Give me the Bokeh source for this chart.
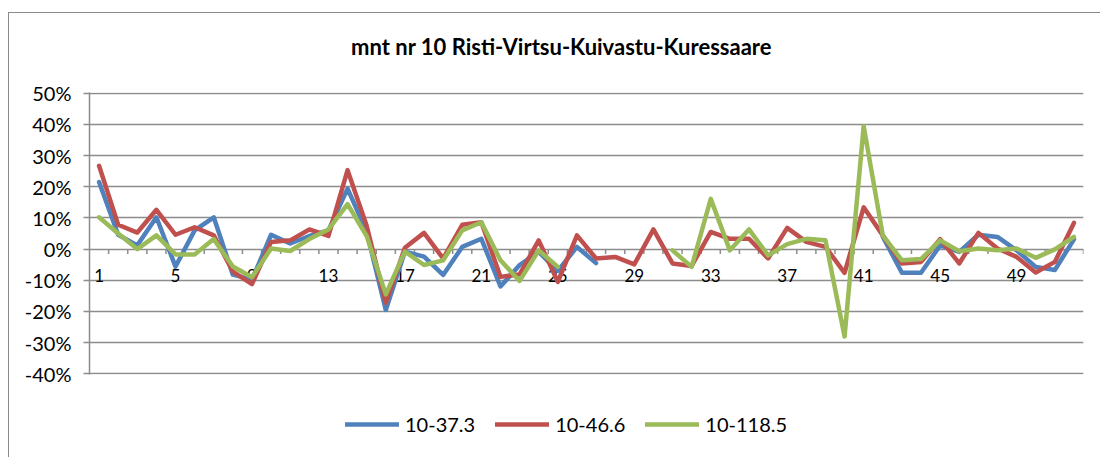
from bokeh.plotting import figure
from bokeh.layouts import column
from bokeh.models import Range1d, Legend, LegendItem, PrintfTickFormatter, FixedTicker, ColumnDataSource
from bokeh.embed import file_html
from bokeh.resources import INLINE
from bokeh.core.properties import value

nan = float("nan")

title_text = "mnt nr 10 Risti-Virtsu-Kuivastu-Kuressaare"
categories = list(range(1, 53))
x_tick_labels = ["1", "5", "9", "13", "17", "21", "25", "29", "33", "37", "41", "45", "49"]
y_ticks = [-40, -30, -20, -10, 0, 10, 20, 30, 40, 50]

s1_name = "10-37.3"
s1 = [21.5, 4.6, 1.2, 10.2, -5.6, 6.0, 10.2, -8.2, -9.8, 4.6,
      1.8, 4.2, 6.0, 19.4, 5.5, -19.5, -0.8, -2.4, -8.3, 0.7,
      3.3, -12.0, -5.1, -0.9, -7.0, 0.7, -4.5, nan, nan, nan,
      nan, nan, nan, nan, nan, nan, nan, nan, nan, nan,
      nan, 4.0, -7.6, -7.6, 1.2, -0.9, 4.6, 3.9, -0.4, -5.7,
      -6.7, 3.1]

s2_name = "10-46.6"
s2 = [26.7, 7.8, 5.3, 12.6, 4.6, 7.0, 4.4, -7.2, -11.2, 2.3,
      2.8, 6.3, 4.2, 25.3, 7.5, -17.2, 0.4, 5.2, -3.0, 7.8,
      8.6, -8.9, -8.1, 2.8, -10.5, 4.4, -3.0, -2.5, -4.9, 6.3,
      -4.6, -5.4, 5.5, 3.3, 3.3, -3.0, 6.8, 2.3, 0.7, -7.6,
      13.4, 4.4, -4.6, -4.1, 3.2, -4.6, 5.2, 0.2, -2.5, -7.5,
      -4.1, 8.4]

s3_name = "10-118.5"
s3 = [10.2, 5.0, 0.0, 4.4, -1.7, -1.7, 3.2, -5.6, -9.0, 0.2,
      -0.6, 3.2, 6.3, 14.4, 4.2, -14.5, -0.8, -5.1, -3.6, 6.0,
      8.6, -3.6, -10.2, -0.4, -5.7, nan, nan, nan, nan, nan,
      -0.4, -5.7, 16.1, -0.4, 6.3, -2.0, 1.6, 3.3, 2.8, -28.0,
      39.4, 4.4, -3.6, -3.2, 2.8, -0.7, 0.2, -0.4, 0.2, -2.8,
      -0.1, 3.9]

series_names = [s1_name, s2_name, s3_name]
series_values = [s1, s2, s3]
colors = ["#4F81BD", "#C0504D", "#9BBB59"]
FONT = "Lato"
GRID = "#8c8c8c"
W = 1091
BL, BR = 80, 17          # plot-frame borders (all strips share the frame)
LINE_W = 4.5


def bare(fig):
    fig.outline_line_color = None
    fig.background_fill_color = "white"
    fig.border_fill_color = "white"
    fig.xgrid.grid_line_color = None
    fig.ygrid.grid_line_color = None


# ---------- title strip ----------
TH = 59
pt = figure(width=W, height=TH, output_backend="svg", toolbar_location=None,
            x_range=Range1d(BL, W - BR), y_range=Range1d(0, TH),
            x_axis_location=None, y_axis_location=None,
            min_border_left=BL, min_border_right=BR, min_border_top=0, min_border_bottom=0)
bare(pt)
pt.text(x=[552], y=[TH - 33], text=[title_text], text_font=value(FONT),
        text_font_size="22px", text_font_style="bold", text_align="center",
        text_baseline="middle", text_color="#000000")

# ---------- main chart ----------
p = figure(width=W, height=316, output_backend="svg", toolbar_location=None,
           x_range=Range1d(0.5, len(categories) + 0.5),
           y_range=Range1d(y_ticks[0] - 0.2, y_ticks[-1] + 0.2),
           x_axis_location=None, min_border_left=BL, min_border_right=BR,
           min_border_top=20, min_border_bottom=14)
bare(p)

p.yaxis.ticker = FixedTicker(ticks=y_ticks)
p.yaxis.formatter = PrintfTickFormatter(format="%d%%")
p.yaxis.axis_line_color = GRID
p.yaxis.axis_line_width = 1.5
p.yaxis.major_tick_line_color = GRID
p.yaxis.major_tick_line_width = 1.5
p.yaxis.major_tick_out = 6
p.yaxis.major_tick_in = 0
p.yaxis.minor_tick_line_color = None
p.yaxis.major_label_standoff = 12
p.yaxis.major_label_text_font = FONT
p.yaxis.major_label_text_font_size = "20px"
p.yaxis.major_label_text_color = "#000000"

p.ygrid.ticker = FixedTicker(ticks=y_ticks)
p.ygrid.grid_line_color = GRID
p.ygrid.grid_line_width = 1.5

# category-axis tick marks along the zero line
bounds = [c + 0.5 for c in categories]
p.segment(x0=bounds, y0=[0] * len(bounds), x1=bounds, y1=[-1.6] * len(bounds),
          line_color=GRID, line_width=1.5)

# category labels just below the zero line
lab_x = [int(t) for t in x_tick_labels]
p.text(x=lab_x, y=[-8.6] * len(lab_x), text=x_tick_labels,
       text_font=value(FONT), text_font_size="17px", text_align="center",
       text_baseline="middle", text_color="#000000")

for ys, col in zip(series_values, colors):
    src = ColumnDataSource(dict(x=categories, y=ys))
    p.line("x", "y", source=src, line_color=col, line_width=LINE_W,
           line_join="round", line_cap="round")

# ---------- legend strip ----------
LH = 70
pl = figure(width=W, height=LH, output_backend="svg", toolbar_location=None,
            x_range=Range1d(0, 1), y_range=Range1d(0, 1),
            x_axis_location=None, y_axis_location=None,
            min_border_left=BL, min_border_right=BR, min_border_top=0, min_border_bottom=0)
bare(pl)
proxies = []
for col in colors:
    proxies.append(pl.line(x=[nan], y=[nan], line_color=col, line_width=LINE_W, line_cap="round"))

legend = Legend(items=[LegendItem(label=n, renderers=[r]) for n, r in zip(series_names, proxies)],
                location=(256, 22), orientation="horizontal",
                glyph_width=54, glyph_height=24, label_height=24, label_standoff=6,
                spacing=20, padding=0, margin=0,
                border_line_alpha=0, background_fill_alpha=0,
                label_text_font=FONT, label_text_font_size="20px",
                label_text_color="#000000")
pl.add_layout(legend)

layout = column(pt, p, pl, spacing=0, margin=(12, 0, 0, 8),
                styles={"border-top": "1px solid #8a8a8a", "border-left": "1px solid #8a8a8a"})

open("out.html", "w").write(file_html(layout, INLINE))
